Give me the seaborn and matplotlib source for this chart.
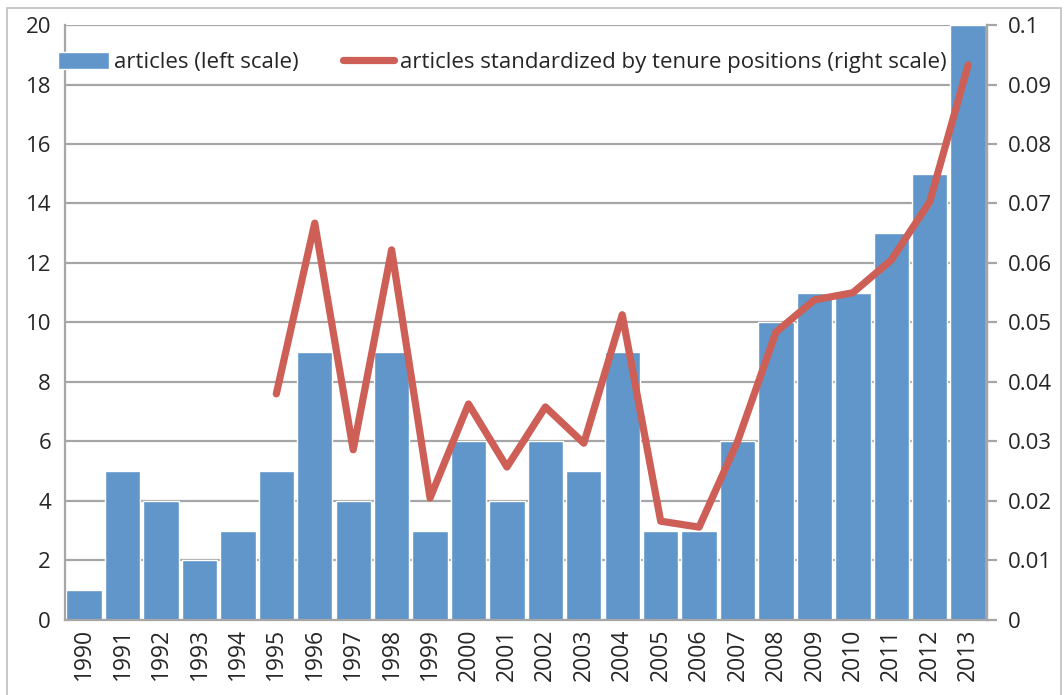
import matplotlib
matplotlib.use("Agg")
import matplotlib.pyplot as plt
import numpy as np
import pandas as pd
import seaborn as sns

YEARS = list(range(1990, 2014))
ARTICLES = [1, 5, 4, 2, 3, 5, 9, 4, 9, 3, 6, 4, 6, 5, 9, 3, 3, 6, 10, 11, 11, 13, 15, 20]
# standardized series starts in 1995
STD_YEARS = list(range(1995, 2014))
STD_ARTICLES = [0.038, 0.0667, 0.0286, 0.0622, 0.0205, 0.0363, 0.0257, 0.0358, 0.0297,
                0.0513, 0.0166, 0.0156, 0.030, 0.0484, 0.0538, 0.055, 0.0605, 0.0703, 0.0933]

BAR_COLOR = "#6096C9"
LINE_COLOR = "#CD5F57"
GRID = "#A6A6A6"

sns.set_style("white")
plt.rcParams["font.family"] = ["Open Sans", "DejaVu Sans"]

bars = pd.DataFrame({"year": [str(y) for y in YEARS], "articles": ARTICLES})
line = pd.DataFrame({"pos": [YEARS.index(y) for y in STD_YEARS], "std": STD_ARTICLES})

fig = plt.figure(figsize=(10.64, 6.95), dpi=100)
ax = fig.add_axes([0.061, 0.108, 0.867, 0.856])

sns.barplot(data=bars, x="year", y="articles", color=BAR_COLOR, width=0.92,
            saturation=1, ax=ax, label="articles (left scale)", zorder=2)
ax.set_ylim(0, 20)
ax.set_yticks(np.arange(0, 21, 2))
ax.set_xlim(-0.5, len(YEARS) - 0.5)
ax.set_xlabel("")
ax.set_ylabel("")
ax.yaxis.grid(True, color=GRID, linewidth=1.6, zorder=0)
ax.set_axisbelow(True)
ax.tick_params(axis="y", labelsize=16, length=0, pad=10)
ax.tick_params(axis="x", labelsize=16.5, rotation=90, length=0, pad=6)
ax.spines["top"].set_visible(False)
for s in ["left", "right", "bottom"]:
    ax.spines[s].set_color(GRID)
    ax.spines[s].set_linewidth(1.6)
# category separators below the axis
ax.set_xticks(np.arange(-0.5, len(YEARS), 1), minor=True)
ax.tick_params(axis="x", which="minor", length=7, color=GRID, width=1.6)
if ax.get_legend() is not None:
    ax.get_legend().remove()

ax2 = ax.twinx()
sns.lineplot(data=line, x="pos", y="std", color=LINE_COLOR, linewidth=5.2, ax=ax2,
             label="articles standardized by tenure positions (right scale)",
             solid_capstyle="round", solid_joinstyle="round")
ax2.set_ylim(0, 0.1)
ax2.set_yticks(np.arange(0, 0.101, 0.01))
ax2.set_yticklabels(["0"] + ["%g" % round(v, 2) for v in np.arange(0.01, 0.101, 0.01)])
ax2.set_ylabel("")
ax2.tick_params(axis="y", labelsize=16, length=7, color=GRID, width=1.6, pad=8)
for s in ["top", "left", "bottom"]:
    ax2.spines[s].set_visible(False)
ax2.spines["right"].set_color(GRID)
ax2.spines["right"].set_linewidth(1.6)
ax2.get_legend().remove()

h1, l1 = ax.get_legend_handles_labels()
h2, l2 = ax2.get_legend_handles_labels()
ax2.legend(h1 + h2, l1 + l2, loc="upper left", bbox_to_anchor=(-0.008, 0.955), ncol=2,
           frameon=False, fontsize=16, handlelength=2.3, handleheight=0.8,
           handletextpad=0.25, columnspacing=2.0, borderaxespad=0, borderpad=0)

# outer chart frame
fig.patches.append(matplotlib.patches.Rectangle((0.007, -0.02), 0.99, 1.008,
                   transform=fig.transFigure, fill=False, edgecolor="#BFBFBF", linewidth=1.2))

fig.savefig("out.png", dpi=100)
